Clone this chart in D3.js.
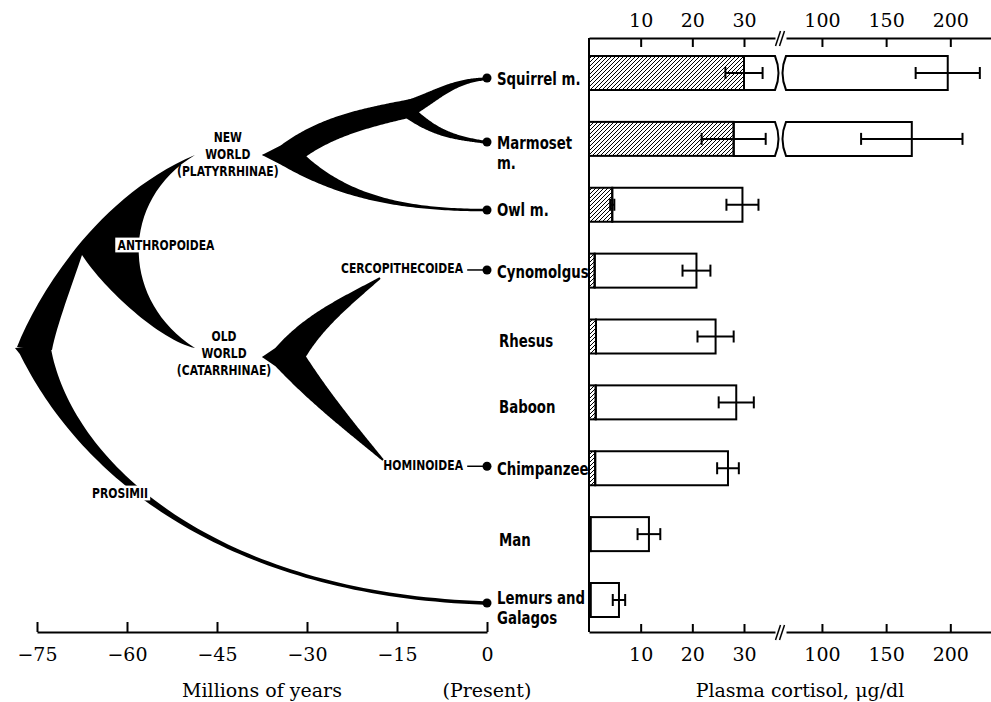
<!DOCTYPE html>
<html>
<head>
<meta charset="utf-8">
<script src="https://cdn.jsdelivr.net/npm/d3@7"></script>
<style>
body { margin: 0; background: #fff; }
svg { display: block; background: #fff; }
.axis text { font-family: "DejaVu Serif", serif; font-size: 19px; fill: #000; }
.axis path, .axis line { stroke: #000; stroke-width: 2; }
.title { font-family: "DejaVu Serif", serif; font-size: 19px; fill: #000; }
.sp { font-family: "DejaVu Sans", sans-serif; font-weight: bold; font-size: 18.5px; fill: #000; }
.clade { font-family: "DejaVu Sans", sans-serif; font-weight: bold; font-size: 14px; fill: #000; }
</style>
</head>
<body>
<div id="mainDiv"></div>
<script>
'use strict';

// species, top to bottom
var species = ['Squirrel m.', 'Marmoset m.', 'Owl m.', 'Cynomolgus', 'Rhesus', 'Baboon', 'Chimpanzee', 'Man', 'Lemurs and Galagos'];
var speciesLines = [['Squirrel m.'], ['Marmoset', 'm.'], ['Owl m.'], ['Cynomolgus'], ['Rhesus'], ['Baboon'], ['Chimpanzee'], ['Man'], ['Lemurs and', 'Galagos']];

// plasma cortisol, ug/dl (open bar = total, hatched = unbound)
var totalCortisol = [198, 170, 29.7, 20.8, 24.5, 28.5, 26.9, 11.6, 5.8];
var totalSE       = [25, 39.5, 3.1, 2.7, 3.5, 3.4, 2.1, 2.2, 1.2];
var freeCortisol  = [30, 28, 4.5, 1.1, 1.35, 1.3, 1.2, 0.3, 0.3];
var freeSE        = [3.6, 6.2, 0.4, 0, 0, 0, 0, 0, 0];

var lowTicks = [10, 20, 30];
var highTicks = [100, 150, 200];
var timeTicks = [-75, -60, -45, -30, -15, 0];

// tree, all points as [millions of years, row]
// Anthropoidea crescent: outline made of cubic pieces [c1, c2, end]
var anthropoideaStart = [-78.33, 4.159];
var anthropoideaOutline = [
    [[-74.5, 3.294], [-64.5, 1.852], [-48.67, 1.245]],
    [[-61.17, 1.928], [-61.17, 3.446], [-48.67, 4.175]],
    [[-54.5, 4.053], [-63.67, 3.294], [-67.5, 2.763]],
    [[-69.17, 3.218], [-71.67, 3.825], [-72.5, 4.205]]
];

var treeBranches = [
    // Prosimii
    {from: [-75.33, 4.19], to: [-0.5, 8.045], tip: [-78.67, 4.175], a0: 72, a1: 2, h0: 0.24, h1: 0.52, w0: 32, w1: 3.5, taper: 4, horn: 1},
    // New World split
    {from: [-33.17, 1.245], to: [-12.5, 0.531], tip: [-37.5, 1.245], a0: -38, a1: -12, h0: 0.35, h1: 0.35, w0: 24, w1: 18, taper: 1, horn: 1},
    {from: [-33.17, 1.245], to: [-0.5, 2.08], tip: [-37.5, 1.245], a0: 38, a1: 0, h0: 0.3, h1: 0.45, w0: 24, w1: 2.5, taper: 2.5, horn: 1},
    // squirrel / marmoset
    {from: [-13.67, 0.562], to: [-0.5, 0.091], a0: -22, a1: -4, h0: 0.35, h1: 0.4, w0: 18, w1: 3, taper: 1.3, horn: 1},
    {from: [-12.83, 0.607], to: [-0.5, 1.047], a0: 38, a1: 8, h0: 0.4, h1: 0.4, w0: 13, w1: 3, taper: 1.5, horn: 1},
    // Old World split
    {from: [-33.17, 4.311], to: [-17.83, 3.112], tip: [-37.5, 4.311], a0: -55, a1: -35, h0: 0.35, h1: 0.35, w0: 31, w1: 2, taper: 1, horn: 1},
    {from: [-33.17, 4.311], to: [-17.33, 5.875], tip: [-37.5, 4.311], a0: 52, a1: 45, h0: 0.35, h1: 0.35, w0: 31, w1: 2, taper: 1, horn: 1}
];

var cladeLabels = [
    {lines: ['NEW', 'WORLD', '(PLATYRRHINAE)'], at: [-43.2, 1.23], anchor: 'middle'},
    {lines: ['ANTHROPOIDEA'], at: [-53.5, 2.611], anchor: 'middle', box: true},
    {lines: ['OLD', 'WORLD', '(CATARRHINAE)'], at: [-43.83, 4.25], anchor: 'middle'},
    {lines: ['PROSIMII'], at: [-61.17, 6.376], anchor: 'middle', box: true},
    {lines: ['CERCOPITHECOIDEA'], at: [-4, 2.96], anchor: 'end'},
    {lines: ['HOMINOIDEA'], at: [-4, 5.95], anchor: 'end'}
];

// tips of the tree (row of the dot), null where there is none
var dotRows = [0.076, 1.047, 2.08, 2.99, null, null, 5.97, null, 8.045];
var connectorRows = [2.99, 5.97];

var chart = {};

chart.W = 991;
chart.H = 702;
chart.axisTop = 38;
chart.axisBottom = 632;
chart.barH = 34;
chart.capH = 6;
chart.labelShift = [5, 3, 5, 1, 4, 4, 0, 5, -3];
chart.spScale = 0.72;
chart.cladeScale = 0.77;

chart.tx = d3.scaleLinear().domain([-75, 0]).range([37, 487]);
chart.ry = d3.scaleLinear().domain([0, 8]).range([73, 600]);

chart.low = d3.scaleLinear().domain([0, 36]).range([589, 775]);
chart.high = d3.scaleLinear().domain([72, 231.7]).range([786, 991]);

chart.cx = function(v)
{
    return v <= 36 ? chart.low(v) : chart.high(v);
}

chart.pt = function(p)
{
    return [chart.tx(p[0]), chart.ry(p[1])];
}

chart.outline = function(start, segs)
{
    var path = d3.path();
    var s = chart.pt(start);
    path.moveTo(s[0], s[1]);
    segs.forEach(function(seg)
    {
        var a = chart.pt(seg[0]), b = chart.pt(seg[1]), c = chart.pt(seg[2]);
        path.bezierCurveTo(a[0], a[1], b[0], b[1], c[0], c[1]);
    });
    path.closePath();
    return path.toString();
}

chart.ribbon = function(b)
{
    var p0 = chart.pt(b.from);
    var p3 = chart.pt(b.to);
    var len = Math.hypot(p3[0] - p0[0], p3[1] - p0[1]);
    var a0 = b.a0 * Math.PI / 180, a1 = b.a1 * Math.PI / 180;
    var p1 = [p0[0] + b.h0 * len * Math.cos(a0), p0[1] + b.h0 * len * Math.sin(a0)];
    var p2 = [p3[0] - b.h1 * len * Math.cos(a1), p3[1] - b.h1 * len * Math.sin(a1)];
    var n = 80, left = [], right = [];

    for(var i = 0; i <= n; i++)
    {
        var u = i / n, v = 1 - u;
        var x = v*v*v*p0[0] + 3*v*v*u*p1[0] + 3*v*u*u*p2[0] + u*u*u*p3[0];
        var y = v*v*v*p0[1] + 3*v*v*u*p1[1] + 3*v*u*u*p2[1] + u*u*u*p3[1];
        var dx = 3*v*v*(p1[0]-p0[0]) + 6*v*u*(p2[0]-p1[0]) + 3*u*u*(p3[0]-p2[0]);
        var dy = 3*v*v*(p1[1]-p0[1]) + 6*v*u*(p2[1]-p1[1]) + 3*u*u*(p3[1]-p2[1]);
        var dl = Math.hypot(dx, dy) || 1;
        var w = b.w1 + (b.w0 - b.w1) * Math.pow(1 - Math.pow(u, b.horn), b.taper);
        var nx = -dy / dl * w / 2, ny = dx / dl * w / 2;
        left.push([x + nx, y + ny]);
        right.push([x - nx, y - ny]);
    }

    var pts = [];
    if(b.tip) pts.push(chart.pt(b.tip));
    pts = pts.concat(left, right.reverse());

    return d3.line()(pts) + 'Z';
}

chart.drawTree = function(svg)
{
    var g = svg.append('g');

    g.append('path')
        .attr('d', chart.outline(anthropoideaStart, anthropoideaOutline))
        .attr('fill', '#000');

    g.selectAll('path.branch')
        .data(treeBranches)
        .enter()
        .append('path')
        .attr('class', 'branch')
        .attr('d', chart.ribbon)
        .attr('fill', '#000');

    // connectors from superfamily names
    g.selectAll('line.conn')
        .data(connectorRows)
        .enter()
        .append('line')
        .attr('x1', chart.tx(-3.3))
        .attr('x2', chart.tx(0))
        .attr('y1', function(d){ return chart.ry(d); })
        .attr('y2', function(d){ return chart.ry(d); })
        .attr('stroke', '#000')
        .attr('stroke-width', 1.5);

    g.selectAll('circle')
        .data(dotRows.filter(function(d){ return d !== null; }))
        .enter()
        .append('circle')
        .attr('cx', chart.tx(0))
        .attr('cy', function(d){ return chart.ry(d); })
        .attr('r', 4.5)
        .attr('fill', '#000');

    cladeLabels.forEach(function(c)
    {
        var x = chart.tx(c.at[0]);
        var y0 = chart.ry(c.at[1]) - (c.lines.length - 1) / 2 * 17;
        var t = g.append('text')
            .attr('class', 'clade')
            .attr('text-anchor', c.anchor)
            .attr('transform', 'translate(' + x + ',' + y0 + ') scale(' + chart.cladeScale + ',1)');
        c.lines.forEach(function(s, i)
        {
            t.append('tspan').attr('x', 0).attr('y', i * 17).attr('dy', '0.36em').text(s);
        });
        if(c.box)
        {
            var bb = t.node().getBBox();
            g.insert('rect', function(){ return t.node(); })
                .attr('x', bb.x - 3).attr('y', bb.y + 1)
                .attr('width', bb.width + 6).attr('height', bb.height - 2)
                .attr('transform', t.attr('transform'))
                .attr('fill', '#fff');
        }
    });
}

chart.drawSpecies = function(svg)
{
    var g = svg.append('g');
    speciesLines.forEach(function(lines, i)
    {
        var x = dotRows[i] === null ? 499 : 497;
        var y = chart.ry(i) + chart.labelShift[i];
        var t = g.append('text')
            .attr('class', 'sp')
            .attr('transform', 'translate(' + x + ',' + y + ') scale(' + chart.spScale + ',1)');
        lines.forEach(function(s, k)
        {
            t.append('tspan')
                .attr('x', 0)
                .attr('y', k * 20)
                .attr('dy', '0.36em')
                .text(s);
        });
    });
}

chart.drawBars = function(svg)
{
    var defs = svg.append('defs');
    defs.append('pattern')
        .attr('id', 'hatch')
        .attr('patternUnits', 'userSpaceOnUse')
        .attr('width', 4).attr('height', 4)
        .append('path')
        .attr('d', 'M0,4 L4,0 M-1,1 L1,-1 M3,5 L5,3')
        .attr('stroke', '#000')
        .attr('stroke-width', 1);

    var g = svg.append('g');
    var h = chart.barH;
    var x0 = chart.cx(0);

    var rows = species.map(function(s, i)
    {
        return {i: i, total: totalCortisol[i], tse: totalSE[i], free: freeCortisol[i], fse: freeSE[i]};
    });

    rows.forEach(function(d)
    {
        var yTop = chart.ry(d.i) - h / 2, yBot = yTop + h, yMid = chart.ry(d.i);
        var xf = chart.cx(d.free);

        if(d.total <= 36)
        {
            g.append('rect')
                .attr('x', xf).attr('y', yTop)
                .attr('width', chart.cx(d.total) - xf).attr('height', h)
                .attr('fill', '#fff').attr('stroke', '#000').attr('stroke-width', 2);
        }
        else
        {
            var e1 = chart.low.range()[1], e2 = chart.high.range()[0];
            g.append('path')
                .attr('d', 'M' + xf + ',' + yTop + 'H' + e1 + 'Q' + (e1 + 7) + ',' + yMid + ' ' + e1 + ',' + yBot + 'H' + xf + 'Z')
                .attr('fill', '#fff').attr('stroke', '#000').attr('stroke-width', 2);
            g.append('path')
                .attr('d', 'M' + e2 + ',' + yTop + 'H' + chart.cx(d.total) + 'V' + yBot + 'H' + e2 + 'Q' + (e2 - 7) + ',' + yMid + ' ' + e2 + ',' + yTop + 'Z')
                .attr('fill', '#fff').attr('stroke', '#000').attr('stroke-width', 2);
        }

        g.append('rect')
            .attr('x', x0).attr('y', yTop)
            .attr('width', xf - x0).attr('height', h)
            .attr('fill', 'url(#hatch)').attr('stroke', '#000').attr('stroke-width', 2);
    });

    // error bars
    var errs = [];
    rows.forEach(function(d)
    {
        errs.push({y: chart.ry(d.i), lo: d.total - d.tse, hi: d.total + d.tse});
        if(d.fse > 0) errs.push({y: chart.ry(d.i), lo: d.free - d.fse, hi: d.free + d.fse});
    });

    var eg = g.selectAll('g.err')
        .data(errs)
        .enter()
        .append('g')
        .attr('class', 'err')
        .attr('stroke', '#000')
        .attr('stroke-width', 2);

    eg.append('line')
        .attr('x1', function(d){ return chart.cx(d.lo); })
        .attr('x2', function(d){ return chart.cx(d.hi); })
        .attr('y1', function(d){ return d.y; })
        .attr('y2', function(d){ return d.y; });
    eg.append('line')
        .attr('x1', function(d){ return chart.cx(d.lo); })
        .attr('x2', function(d){ return chart.cx(d.lo); })
        .attr('y1', function(d){ return d.y - chart.capH; })
        .attr('y2', function(d){ return d.y + chart.capH; });
    eg.append('line')
        .attr('x1', function(d){ return chart.cx(d.hi); })
        .attr('x2', function(d){ return chart.cx(d.hi); })
        .attr('y1', function(d){ return d.y - chart.capH; })
        .attr('y2', function(d){ return d.y + chart.capH; });
}

chart.breakMark = function(svg, x, y)
{
    svg.append('rect')
        .attr('x', x - 4).attr('y', y - 2).attr('width', 8).attr('height', 4)
        .attr('fill', '#fff');
    [-2, 2].forEach(function(o)
    {
        svg.append('line')
            .attr('x1', x + o - 3).attr('y1', y + 8)
            .attr('x2', x + o + 2).attr('y2', y - 7)
            .attr('stroke', '#000').attr('stroke-width', 1.5);
    });
}

chart.drawAxes = function(svg)
{
    var fmt = d3.format('');

    // time axis
    svg.append('g')
        .attr('class', 'axis')
        .attr('transform', 'translate(0,' + chart.axisBottom + ')')
        .call(d3.axisBottom(chart.tx).tickValues(timeTicks).tickFormat(fmt)
            .tickSizeInner(-10).tickSizeOuter(0).tickPadding(16));

    // cortisol axes, top and bottom, each in two pieces
    [chart.low, chart.high].forEach(function(sc, k)
    {
        var ticks = k === 0 ? lowTicks : highTicks;
        svg.append('g')
            .attr('class', 'axis')
            .attr('transform', 'translate(0,' + chart.axisTop + ')')
            .call(d3.axisTop(sc).tickValues(ticks).tickSizeInner(-9).tickSizeOuter(0).tickPadding(11));
        svg.append('g')
            .attr('class', 'axis')
            .attr('transform', 'translate(0,' + chart.axisBottom + ')')
            .call(d3.axisBottom(sc).tickValues(ticks).tickSizeInner(-8).tickSizeOuter(0).tickPadding(16));
    });

    svg.selectAll('.axis .domain').attr('fill', 'none');

    svg.append('line')
        .attr('x1', chart.cx(0)).attr('x2', chart.cx(0))
        .attr('y1', chart.axisTop).attr('y2', chart.axisBottom)
        .attr('stroke', '#000').attr('stroke-width', 2);

    var bx = (chart.low.range()[1] + chart.high.range()[0]) / 2;
    chart.breakMark(svg, bx, chart.axisTop);
    chart.breakMark(svg, bx, chart.axisBottom);

    svg.append('text').attr('class', 'title').attr('x', 262).attr('y', 697)
        .attr('text-anchor', 'middle').text('Millions of years');
    svg.append('text').attr('class', 'title').attr('x', chart.tx(0)).attr('y', 697)
        .attr('text-anchor', 'middle').text('(Present)');
    svg.append('text').attr('class', 'title').attr('x', 800).attr('y', 697)
        .attr('text-anchor', 'middle').text('Plasma cortisol, \u03bcg/dl');
}

chart.run = function()
{
    var svg = d3.select('#mainDiv').append('svg')
        .attr('width', chart.W)
        .attr('height', chart.H);

    svg.append('rect').attr('width', chart.W).attr('height', chart.H).attr('fill', '#fff');

    chart.drawTree(svg);
    chart.drawSpecies(svg);
    chart.drawBars(svg);
    chart.drawAxes(svg);
}

chart.run();
</script>
</body>
</html>
